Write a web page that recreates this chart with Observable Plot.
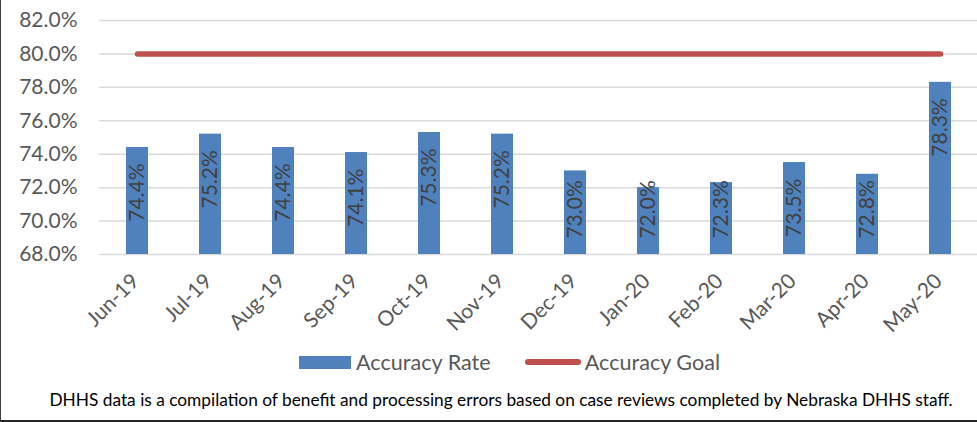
<!DOCTYPE html>
<html>
<head>
<meta charset="utf-8">
<script src="https://cdn.jsdelivr.net/npm/d3@7"></script>
<script src="https://cdn.jsdelivr.net/npm/@observablehq/plot@0.6"></script>
<style>
  html, body { margin: 0; padding: 0; background: #fff; }
  #frame {
    position: relative; width: 977px; height: 422px; box-sizing: border-box;
    border-left: 1px solid #404040; border-bottom: 2px solid #262626;
    font-family: Lato, "Open Sans", sans-serif; overflow: hidden;
  }
  #chart { position: absolute; left: 0; top: 0; }
  #legend {
    position: absolute; left: 298px; top: 350px; height: 24px;
    display: flex; align-items: center; font-size: 21.6px; color: #595959;
  }
  #legend .sw { display: inline-block; }
  #caption {
    position: absolute; left: 0; top: 388px; width: 100%; box-sizing: border-box;
    padding-left: 24px; text-align: center; font-size: 17.3px; line-height: 24px; color: #000;
  }
</style>
</head>
<body>
<div id="frame">
  <div id="chart"></div>
  <div id="legend"></div>
  <div id="caption"></div>
</div>
<script>
const months = ["Jun-19","Jul-19","Aug-19","Sep-19","Oct-19","Nov-19","Dec-19","Jan-20","Feb-20","Mar-20","Apr-20","May-20"];
const accuracyRate = [74.4, 75.2, 74.4, 74.1, 75.3, 75.2, 73.0, 72.0, 72.3, 73.5, 72.8, 78.3];
const accuracyGoal = [80, 80, 80, 80, 80, 80, 80, 80, 80, 80, 80, 80];
const yTicks = [68, 70, 72, 74, 76, 78, 80, 82];
const seriesNames = ["Accuracy Rate", "Accuracy Goal"];
const captionText = "DHHS data is a compilation of benefit and processing errors based on case reviews completed by Nebraska DHHS staff.";

const blue = "#4F81BD", red = "#C0504D";
const rows = months.map((m, i) => ({month: m, rate: accuracyRate[i], goal: accuracyGoal[i]}));
const labelFloor = 73.4;

const chart = Plot.plot({
  width: 976,
  height: 345,
  marginLeft: 98,
  marginRight: 0,
  marginTop: 20,
  marginBottom: 91,
  style: {fontFamily: "Lato, 'Open Sans', sans-serif", color: "#595959", background: "transparent"},
  x: {domain: months, paddingInner: 0.7, paddingOuter: 0.35, label: null},
  y: {domain: [68, 82], label: null},
  marks: [
    Plot.gridY(yTicks, {stroke: "#d9d9d9", strokeOpacity: 1, strokeWidth: 1.5}),
    Plot.barY(rows, {x: "month", y1: 68, y2: "rate", fill: blue}),
    Plot.line(rows, {x: "month", y: "goal", stroke: red, strokeWidth: 5.5, strokeLinecap: "round"}),
    Plot.text(rows, {
      x: "month", y: d => Math.max(d.rate, labelFloor),
      text: d => d.rate.toFixed(1) + "%",
      rotate: -90, textAnchor: "end", lineAnchor: "middle", dy: 16,
      fontSize: 21, fill: "#404040"
    }),
    Plot.axisY({ticks: yTicks, tickFormat: d => d.toFixed(1) + "%", tickSize: 0, tickPadding: 22, fontSize: 21, label: null}),
    Plot.axisX({tickSize: 0, tickPadding: 23, dx: -2, tickRotate: -45, fontSize: 21, label: null})
  ]
});
document.getElementById("chart").appendChild(chart);

const legend = document.getElementById("legend");
legend.innerHTML =
  `<span class="sw" style="width:52px;height:13px;background:${blue};margin-right:5px"></span>` +
  `<span>${seriesNames[0]}</span>` +
  `<span class="sw" style="width:56px;height:5.5px;border-radius:3px;background:${red};margin-left:34px;margin-right:4px"></span>` +
  `<span>${seriesNames[1]}</span>`;
document.getElementById("caption").textContent = captionText;
</script>
</body>
</html>
